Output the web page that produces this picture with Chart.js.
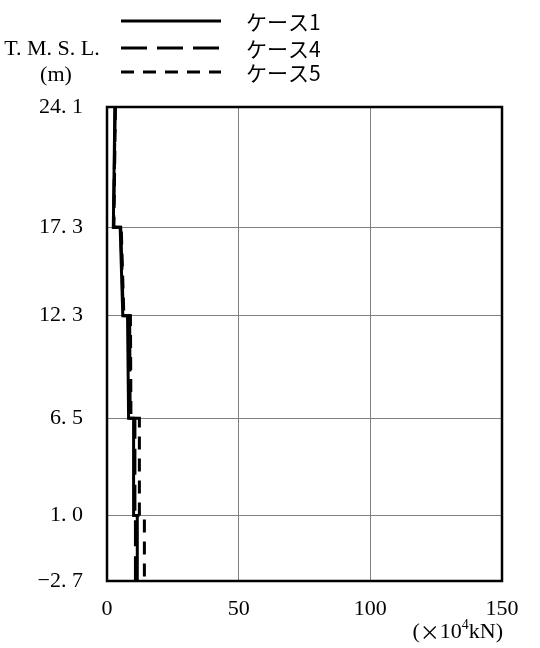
<!DOCTYPE html>
<html lang="ja">
<head>
  <meta charset="UTF-8">
  <title>T.M.S.L. profile</title>
  <style>
    body { margin: 0; background: #fff; }
    canvas { display: block; }
  </style>
</head>
<body>
  <canvas id="chart" width="540" height="648"></canvas>

  <script src="https://cdn.jsdelivr.net/npm/chart.js@4.4.1/dist/chart.umd.min.js"></script>
  <script>
    // elevations (T.M.S.L., m) at the layer boundaries, top to bottom
    const levels = [24.1, 17.3, 12.3, 6.5, 1.0, -2.7];
    const xTicks = [0, 50, 100, 150];

    // value at the top and at the bottom of each layer (x10^4 kN)
    const case1Top = [3.0, 5.0, 7.8, 10.1, 11.5];
    const case1Bottom = [2.4, 6.0, 8.2, 10.1, 11.5];
    const case4Top = [3.1, 5.2, 8.6, 10.6, 10.8];
    const case4Bottom = [2.5, 6.2, 8.8, 10.6, 10.8];
    const case5Top = [3.2, 5.4, 8.9, 12.3, 14.2];
    const case5Bottom = [2.6, 6.4, 9.1, 12.3, 14.2];

    const seriesNames = ["ケース1", "ケース4", "ケース5"];
    const dashes = [[], [26, 10], [13, 9]];

    // turn layer values into a polyline (steps appear at the boundaries)
    function profile(top, bottom) {
      const pts = [];
      for (let i = 0; i < top.length; i++) {
        pts.push({ x: top[i], y: levels[i] });
        pts.push({ x: bottom[i], y: levels[i + 1] });
      }
      return pts;
    }

    const serif = "'Liberation Serif', 'DejaVu Serif', serif";
    const jp = "'Noto Sans CJK JP', sans-serif";

    // unit label "(×10⁴kN)", right aligned at x
    function drawUnit(ctx, x, y) {
      const parts = [
        { t: "(", f: "22px " + serif, dy: 0 },
        { t: "×", f: "20px " + jp, dy: 0 },
        { t: "10", f: "22px " + serif, dy: 0 },
        { t: "4", f: "14px " + serif, dy: -7 },
        { t: "kN)", f: "22px " + serif, dy: 0 }
      ];
      let w = 0;
      parts.forEach(p => { ctx.font = p.f; p.w = ctx.measureText(p.t).width; w += p.w; });
      let cx = x - w;
      ctx.textAlign = "left";
      parts.forEach(p => {
        ctx.font = p.f;
        ctx.fillText(p.t, cx, y + p.dy);
        cx += p.w;
      });
    }

    const extras = {
      id: "extras",
      afterDraw(chart) {
        const ctx = chart.ctx;
        const a = chart.chartArea;
        ctx.save();
        // black frame round the plot
        ctx.strokeStyle = "#000";
        ctx.lineWidth = 2.5;
        ctx.setLineDash([]);
        ctx.strokeRect(a.left, a.top, a.right - a.left, a.bottom - a.top);

        // legend
        const rows = [21, 48, 72];
        ctx.lineWidth = 3;
        rows.forEach((y, i) => {
          ctx.setLineDash(dashes[i]);
          ctx.beginPath();
          ctx.moveTo(121, y);
          ctx.lineTo(221, y);
          ctx.stroke();
        });
        ctx.setLineDash([]);
        ctx.fillStyle = "#000";
        ctx.textBaseline = "middle";
        ctx.textAlign = "left";
        ctx.font = "21px " + jp;
        rows.forEach((y, i) => ctx.fillText(seriesNames[i], 246, y + 1));

        // axis titles
        ctx.font = "22px " + serif;
        ctx.textAlign = "center";
        ctx.fillText("T. M. S. L.", 52, 49);
        ctx.fillText("(m)", 56, 75);
        drawUnit(ctx, 503, 632);
        ctx.restore();
      }
    };

    new Chart(document.getElementById("chart"), {
      type: "line",
      data: {
        datasets: [
          { label: seriesNames[0], data: profile(case1Top, case1Bottom) },
          { label: seriesNames[1], data: profile(case4Top, case4Bottom) },
          { label: seriesNames[2], data: profile(case5Top, case5Bottom) }
        ].map((d, i) => ({
          ...d,
          borderColor: "#000",
          borderWidth: 3,
          borderDash: dashes[i],
          pointRadius: 0,
          tension: 0,
          fill: false
        }))
      },
      options: {
        responsive: false,
        animation: false,
        layout: { padding: { top: 107, right: 38, left: 0, bottom: 0 } },
        plugins: { legend: { display: false }, tooltip: { enabled: false } },
        scales: {
          x: {
            type: "linear",
            min: 0,
            max: 150,
            afterBuildTicks: s => { s.ticks = xTicks.map(v => ({ value: v })); },
            afterFit: s => { s.height = 67; },
            grid: { color: "#808080", lineWidth: 1, drawTicks: false },
            border: { display: false },
            ticks: { color: "#000", padding: 15, maxRotation: 0, font: { family: serif, size: 22 } }
          },
          y: {
            type: "linear",
            min: -2.7,
            max: 24.1,
            afterBuildTicks: s => { s.ticks = levels.map(v => ({ value: v })); },
            afterFit: s => { s.width = 107; },
            grid: { color: "#808080", lineWidth: 1, drawTicks: false },
            border: { display: false },
            ticks: {
              color: "#000",
              padding: 24,
              font: { family: serif, size: 22 },
              callback: v => v.toFixed(1).replace(".", ". ").replace("-", "−")
            }
          }
        }
      },
      plugins: [extras]
    });
  </script>
</body>
</html>
